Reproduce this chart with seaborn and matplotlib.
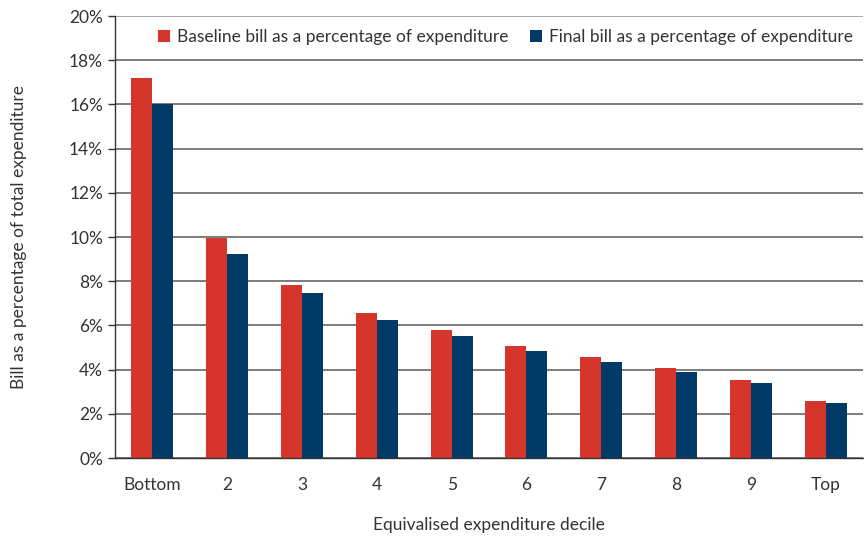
import numpy as np
import pandas as pd
import matplotlib.pyplot as plt
import seaborn as sns

# ===== DATA =====
deciles = ["Bottom", "2", "3", "4", "5", "6", "7", "8", "9", "Top"]
baseline = [17.2, 9.95, 7.85, 6.55, 5.78, 5.07, 4.56, 4.06, 3.55, 2.6]
final = [16.0, 9.22, 7.45, 6.23, 5.52, 4.86, 4.36, 3.89, 3.4, 2.48]
series_names = [
    "Baseline bill as a percentage of expenditure",
    "Final bill as a percentage of expenditure",
]
colors = ["#D5352A", "#003A66"]

df = pd.DataFrame(
    {
        "decile": deciles * 2,
        "value": baseline + final,
        "series": [series_names[0]] * len(deciles) + [series_names[1]] * len(deciles),
    }
)

sns.set_theme(style="white")
plt.rcParams["font.family"] = ["Lato", "DejaVu Sans"]
text_color = "#333333"

fig = plt.figure(figsize=(8.64, 5.36), dpi=100)
ax = fig.add_axes([0.133, 0.1455, 0.866, 0.8245])

sns.barplot(
    data=df,
    x="decile",
    y="value",
    hue="series",
    order=deciles,
    hue_order=series_names,
    palette=colors,
    width=0.56,
    gap=0,
    saturation=1,
    linewidth=0,
    ax=ax,
)

ax.set_xlim(-0.5, len(deciles) - 0.5)
ax.set_ylim(0, 20)
ax.set_yticks(np.arange(0, 21, 2))
ax.set_yticklabels([f"{v}%" for v in range(0, 21, 2)], fontsize=12.5, color=text_color)
ax.set_xticks(range(len(deciles)))
ax.set_xticklabels(deciles, fontsize=12.5, color=text_color)
ax.set_xticks(np.arange(-0.5, len(deciles), 1), minor=True)
ax.tick_params(axis="x", which="major", length=0, pad=14)
ax.tick_params(axis="x", which="minor", length=5, width=1, color="#333333", direction="out")
ax.tick_params(axis="y", length=5, width=1, color="#333333", direction="out", left=True)

ax.yaxis.grid(True, color="#666666", linewidth=1.2)
ax.get_ygridlines()[-1].set_color("#999999")
ax.set_axisbelow(True)
for side in ["top", "right"]:
    ax.spines[side].set_visible(False)
for side in ["left", "bottom"]:
    ax.spines[side].set_color("#333333")
    ax.spines[side].set_linewidth(1)

ax.set_xlabel("Equivalised expenditure decile", fontsize=12.5, color=text_color, labelpad=17)
ax.set_ylabel("Bill as a percentage of total expenditure", fontsize=12.5, color=text_color, labelpad=30)

leg = ax.legend(
    loc="upper right",
    bbox_to_anchor=(1.0, 0.995),
    ncol=2,
    frameon=True,
    facecolor="white",
    edgecolor="white",
    framealpha=1,
    fontsize=12.5,
    handlelength=0.7,
    handleheight=0.7,
    handletextpad=0.4,
    columnspacing=1.2,
    borderaxespad=0.2,
)
for t in leg.get_texts():
    t.set_color(text_color)

plt.savefig("out.png", dpi=100, facecolor="white")
